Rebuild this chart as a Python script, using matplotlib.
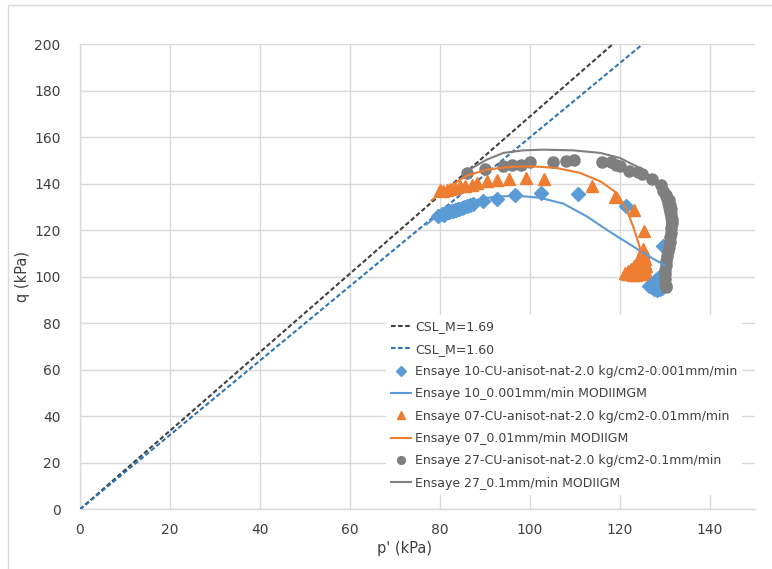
import numpy as np
import matplotlib
matplotlib.use('Agg')
import matplotlib.pyplot as plt
from matplotlib.patches import Rectangle


# critical state lines q = M * p'
csl_m = [1.69, 1.60]
csl_labels = ['CSL_M=1.69', 'CSL_M=1.60']

# Ensaye 10 (0.001 mm/min) - measured
e10_p = [79.6, 80.5, 81.0, 81.2, 81.8, 82.0, 82.5, 82.8, 83.3, 83.5, 84.0, 84.2, 84.8, 85.4,
         86.0, 86.7, 87.4, 89.6, 92.6, 96.7, 102.4, 110.6, 121.3, 129.6,
         129.0, 128.5, 128.0, 127.5, 127.0, 126.5, 127.0, 127.6, 128.2, 128.8, 129.3, 129.6,
         128.5, 128.0]
e10_q = [126.0, 127.0, 126.6, 127.6, 127.8, 128.0, 128.4, 128.3, 128.9, 128.6, 129.2, 129.0, 129.5, 130.0,
         130.4, 130.9, 131.5, 132.5, 133.6, 135.2, 136.2, 135.8, 130.6, 113.1,
         100.5, 99.5, 98.5, 97.8, 97.0, 96.2, 95.5, 94.8, 94.2, 94.6, 95.3, 96.5,
         96.5, 95.5]

# Ensaye 10 - model
e10m_p = [77.0, 80.0, 83.0, 85.9, 91.9, 97.0, 102.2, 107.4, 112.6, 117.8, 122.9, 127.4, 130.2]
e10m_q = [122.5, 127.3, 130.3, 132.3, 134.4, 134.9, 134.0, 131.5, 126.0, 119.3, 113.1, 107.7, 104.8]

# Ensaye 07 (0.01 mm/min) - measured
e07_p = [80.0, 80.7, 81.5, 82.2, 83.3, 84.4, 85.6, 87.0, 88.3, 90.5, 92.6, 95.4, 99.0, 103.1,
         113.7, 118.9, 123.2, 125.4,
         125.2, 125.0, 125.3, 125.5, 125.6, 125.7, 125.6, 125.3, 124.8, 124.2, 123.5, 122.8,
         122.2, 121.5, 121.2, 121.8, 122.5, 123.2, 123.8, 124.3, 124.0, 123.0, 124.5]
e07_q = [137.2, 136.8, 137.5, 137.8, 138.2, 138.9, 138.9, 139.7, 140.4, 141.1, 141.5, 142.1, 142.5, 142.1,
         139.2, 134.3, 128.9, 119.8,
         112.0, 110.5, 109.0, 107.5, 106.0, 104.5, 103.0, 102.0, 101.3, 101.0, 100.8, 100.9,
         101.0, 101.2, 101.5, 102.5, 103.5, 104.8, 106.2, 107.8, 103.0, 102.5, 104.5]

# Ensaye 07 - model
e07m_p = [78.1, 82.2, 85.9, 90.4, 95.6, 100.7, 105.9, 111.1, 115.6, 119.3, 121.5, 122.9, 124.1, 124.6]
e07m_q = [132.9, 138.9, 143.5, 146.1, 147.3, 147.5, 146.8, 144.7, 141.1, 136.1, 128.9, 121.7, 114.5, 111.2]

# Ensaye 27 (0.1 mm/min) - measured
e27_p = [85.9, 90.0, 94.1, 96.0, 97.9, 100.0, 105.0, 108.0, 109.8, 115.9, 118.0, 119.1, 120.0,
         122.0, 124.0, 124.8, 127.2, 129.1,
         129.6, 130.2, 130.8, 131.1, 131.3, 131.4, 131.5, 131.5, 131.4, 131.3, 131.2, 131.0,
         130.8, 130.6, 130.5, 130.3, 130.2, 130.0, 130.0, 130.0, 130.1, 130.2, 130.2]
e27_q = [144.7, 146.4, 147.5, 148.0, 148.3, 149.3, 149.6, 149.7, 150.3, 149.3, 149.3, 148.3, 147.5,
         145.7, 145.1, 144.4, 142.2, 139.4,
         136.8, 135.0, 133.0, 131.0, 129.0, 127.0, 125.0, 123.0, 121.0, 119.0, 117.0, 115.0,
         113.0, 111.0, 109.0, 107.0, 105.0, 103.0, 101.0, 99.0, 97.0, 96.0, 95.5]

# Ensaye 27 - model
e27m_p = [85.2, 90.4, 94.1, 98.5, 103.0, 109.6, 115.6, 120.0, 123.7, 126.7, 128.5, 129.6,
          130.4, 130.7, 130.5, 130.2, 130.0]
e27m_q = [144.7, 150.4, 153.3, 154.4, 154.7, 154.4, 153.3, 151.1, 147.5, 143.2, 138.2, 131.8,
          124.6, 116.0, 108.0, 101.0, 97.0]

BLUE = '#5B9BD5'
ORANGE = '#ED7D31'
GRAY = '#7F7F7F'
TEXT = '#404040'
GRID = '#D9D9D9'

plt.rcParams['font.family'] = 'DejaVu Sans'

fig = plt.figure(figsize=(7.72, 5.69), dpi=100)
ax = fig.add_axes([0.1036, 0.1049, 0.8744, 0.8172])

# chart area border
fig.patches.append(Rectangle((8 / 772, -0.1), 1.2, 1 - 5 / 569 + 0.1,
                             transform=fig.transFigure, fill=False,
                             edgecolor=GRID, lw=1.0))

for m, lab, col in zip(csl_m, csl_labels, ['#404040', '#2E75B6']):
    ax.plot([0, 200 / m], [0, 200], color=col, lw=1.5, dashes=(2.2, 1.2),
            label=lab, zorder=3)

ax.plot(e10_p, e10_q, ls='none', marker='D', ms=7, color=BLUE, mec=BLUE,
        label='Ensaye 10-CU-anisot-nat-2.0 kg/cm2-0.001mm/min', zorder=4)
ax.plot(e10m_p, e10m_q, color=BLUE, lw=1.5,
        label='Ensaye 10_0.001mm/min MODIIMGM', zorder=5)
ax.plot(e07_p, e07_q, ls='none', marker='^', ms=8.5, color=ORANGE, mec=ORANGE,
        label='Ensaye 07-CU-anisot-nat-2.0 kg/cm2-0.01mm/min', zorder=4)
ax.plot(e07m_p, e07m_q, color=ORANGE, lw=1.5,
        label='Ensaye 07_0.01mm/min MODIIGM', zorder=5)
ax.plot(e27_p, e27_q, ls='none', marker='o', ms=8, color=GRAY, mec=GRAY,
        label='Ensaye 27-CU-anisot-nat-2.0 kg/cm2-0.1mm/min', zorder=4)
ax.plot(e27m_p, e27m_q, color=GRAY, lw=1.5,
        label='Ensaye 27_0.1mm/min MODIIGM', zorder=5)

ax.set_xlim(0, 150)
ax.set_ylim(0, 200)
ax.set_xticks(np.arange(0, 141, 20))
ax.set_yticks(np.arange(0, 201, 20))
ax.grid(True, color=GRID, lw=1.0)
ax.set_axisbelow(True)
for s in ['top', 'right']:
    ax.spines[s].set_visible(False)
for s in ['left', 'bottom']:
    ax.spines[s].set_color(GRID)
    ax.spines[s].set_linewidth(1.0)
ax.tick_params(length=0, colors=TEXT, labelsize=10)
ax.tick_params(axis='y', pad=14)
ax.tick_params(axis='x', pad=10)

ax.set_xlabel("p' (kPa)", fontsize=10.5, color=TEXT)
ax.set_ylabel('q (kPa)', fontsize=10.5, color=TEXT, labelpad=3)
ax.xaxis.set_label_coords(0.481, -0.068)

leg = ax.legend(loc='center', bbox_to_anchor=(564 / 772, 1 - 405 / 569),
                bbox_transform=fig.transFigure, fontsize=9, frameon=True,
                facecolor='white', edgecolor='none', framealpha=1.0,
                handlelength=1.6, handletextpad=0.3, labelspacing=0.75,
                borderpad=0.4, markerscale=0.7)
leg.set_zorder(10)
for t in leg.get_texts():
    t.set_color(TEXT)

fig.savefig('out.png', dpi=100)
